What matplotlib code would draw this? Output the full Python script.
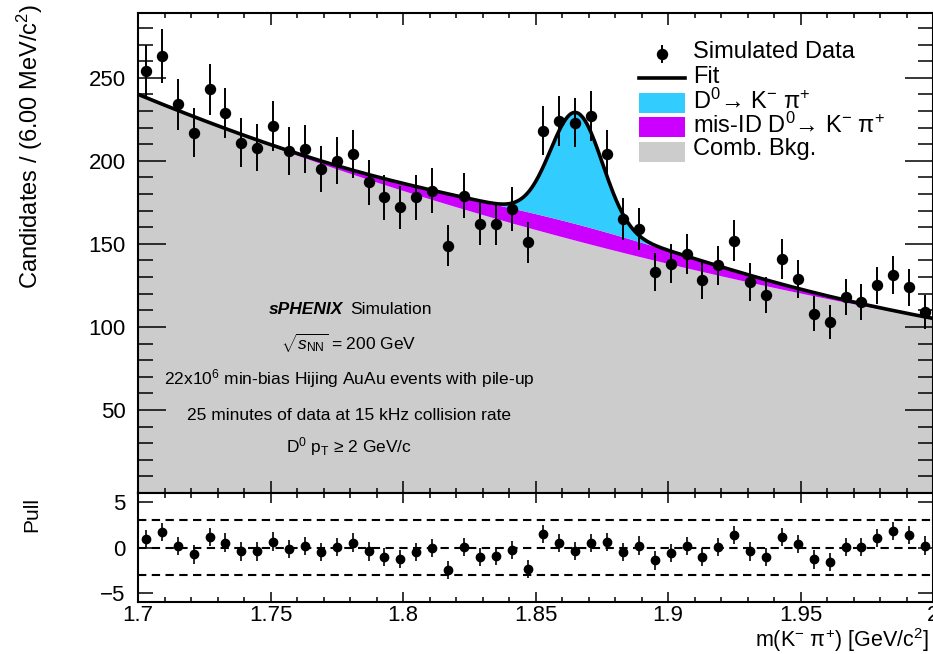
import matplotlib.pyplot as plt
import numpy as np
from matplotlib.patches import Rectangle
from matplotlib.lines import Line2D
from matplotlib.ticker import MultipleLocator, FixedLocator

plt.rcParams['font.family'] = ['Liberation Sans', 'DejaVu Sans']
plt.rcParams['mathtext.fontset'] = 'custom'
plt.rcParams['mathtext.rm'] = 'Liberation Sans'
plt.rcParams['mathtext.it'] = 'Liberation Sans:italic'
plt.rcParams['mathtext.bf'] = 'Liberation Sans:bold'

# m(K- pi+) histogram, 6 MeV bins from 1.70 to 2.00 GeV
m_lo, m_hi, bin_width = 1.70, 2.00, 0.006
counts = [254, 263, 234, 217, 243, 229, 211, 208, 221, 206,
          207, 195, 200, 204, 187, 178, 172, 178, 182, 149,
          179, 162, 162, 171, 151, 218, 224, 223, 227, 204,
          165, 159, 133, 138, 144, 128, 137, 152, 127, 119,
          141, 129, 108, 103, 118, 115, 125, 131, 124, 109]
pulls = [0.95, 1.7, 0.15, -0.77, 1.2, 0.55, -0.44, -0.44, 0.66, -0.15,
         0.18, -0.5, 0.04, 0.55, -0.44, -1.0, -1.25, -0.5, -0.07, -2.5,
         0.04, -1.06, -0.95, -0.26, -2.35, 1.5, 0.48, -0.4, 0.48, 0.59,
         -0.5, 0.22, -1.43, -0.59, 0.15, -1.06, 0.04, 1.4, -0.44, -1.0,
         1.14, 0.4, -1.32, -1.6, 0.04, 0.04, 1.06, 1.8, 1.4, 0.22]

# fit components
comb_norm, comb_slope = 240.0, 2.76          # exponential combinatorial bkg
misid_amp, misid_mean, misid_sigma = 10.0, 1.865, 0.05
sig_amp, sig_mean, sig_sigma = 67.0, 1.8655, 0.0098

x_tick_vals = [1.7, 1.75, 1.8, 1.85, 1.9, 1.95, 2.0]
x_tick_labels = ['1.7', '1.75', '1.8', '1.85', '1.9', '1.95', '2']
y_tick_vals = [50, 100, 150, 200, 250]

C_SIG = '#33ccff'
C_MISID = '#cc00ff'
C_COMB = '#cccccc'

counts = np.array(counts, dtype=float)
pulls = np.array(pulls)
centers = m_lo + bin_width * (np.arange(len(counts)) + 0.5)

xf = np.linspace(m_lo, m_hi, 801)
comb = comb_norm * np.exp(-comb_slope * (xf - m_lo))
misid = misid_amp * np.exp(-0.5 * ((xf - misid_mean) / misid_sigma) ** 2)
sig = sig_amp * np.exp(-0.5 * ((xf - sig_mean) / sig_sigma) ** 2)
total = comb + misid + sig

W, H = 933, 654
fig = plt.figure(figsize=(W / 100, H / 100), dpi=100)

def fxy(px, py):
    return px / W, 1 - py / H

left, right = 138, 933
ax = fig.add_axes([left / W, 1 - 493 / H, (right - left) / W, (493 - 13) / H])
axp = fig.add_axes([left / W, 1 - 602 / H, (right - left) / W, (602 - 493) / H])

# main panel
ax.fill_between(xf, 0, comb, color=C_COMB, lw=0, zorder=1)
ax.fill_between(xf, comb, comb + misid, color=C_MISID, lw=0, zorder=1)
ax.fill_between(xf, comb + misid, total, color=C_SIG, lw=0, zorder=1)
ax.plot(xf, total, color='k', lw=2.6, zorder=2)
ax.errorbar(centers, counts, yerr=np.sqrt(counts), fmt='o', color='k',
            ms=7.2, elinewidth=1.4, capsize=0, zorder=3)
ax.set_xlim(m_lo, m_hi)
ax.set_ylim(0, 289)

for a in (ax, axp):
    for s in a.spines.values():
        s.set_linewidth(1.5)
    a.xaxis.set_major_locator(FixedLocator(x_tick_vals))
    a.xaxis.set_minor_locator(MultipleLocator(0.01))

ax.yaxis.set_major_locator(FixedLocator(y_tick_vals))
ax.yaxis.set_minor_locator(MultipleLocator(10))
ax.tick_params(axis='x', which='both', direction='in', top=True, bottom=True,
               labelbottom=False, width=1.1)
ax.tick_params(axis='x', which='major', length=8.6)
ax.tick_params(axis='x', which='minor', length=3.8)
ax.tick_params(axis='y', which='both', direction='in', left=True, right=True,
               width=1.1, labelsize=16, pad=9)
ax.tick_params(axis='y', which='major', length=20)
ax.tick_params(axis='y', which='minor', length=10.8)

# pull panel
for lvl in (3, 0, -3):
    axp.axhline(lvl, color='k', lw=1.5, ls=(0, (4, 2.6)), zorder=1)
axp.errorbar(centers, pulls, yerr=np.ones_like(pulls), fmt='o', color='k',
             ms=6, elinewidth=1.2, capsize=0, zorder=3)
axp.set_xlim(m_lo, m_hi)
axp.set_ylim(-6, 6)
axp.yaxis.set_major_locator(FixedLocator([-5, 0, 5]))
axp.set_yticklabels(['\u22125', '0', '5'])
axp.set_xticklabels(x_tick_labels)
axp.tick_params(axis='x', which='both', direction='in', top=True, bottom=True,
                width=1.1, labelsize=16, pad=2.5)
axp.tick_params(axis='x', which='major', length=7)
axp.tick_params(axis='x', which='minor', length=3.5)
axp.tick_params(axis='y', which='major', direction='in', left=True, right=True,
                length=10.8, width=1.1, labelsize=16, pad=9)

# axis titles
fig.text(*fxy(30, 4), r'Candidates / (6.00 MeV/c$^{2}$)', rotation=90,
         ha='center', va='top', fontsize=17)
fig.text(*fxy(32, 497), 'Pull', rotation=90, ha='center', va='top', fontsize=15)
fig.text(*fxy(929, 647), r'm(K$^{-}$ π$^{+}$) [GeV/c$^{2}$]',
         ha='right', va='baseline', fontsize=15.5)

# legend
box_x0, box_x1 = 639, 685
text_x = 693
fig.add_artist(Line2D([fxy(662, 0)[0]] * 2, [fxy(0, 46)[1], fxy(0, 62)[1]],
                      color='k', lw=1.4, transform=fig.transFigure))
fig.add_artist(Line2D([fxy(662, 0)[0]], [fxy(0, 54)[1]], marker='o', ms=7.2,
                      color='k', transform=fig.transFigure))
fig.add_artist(Line2D([box_x0 / W, box_x1 / W], [fxy(0, 78)[1]] * 2,
                      color='k', lw=2.6, transform=fig.transFigure))
for yc, col in ((103, C_SIG), (127, C_MISID), (152, C_COMB)):
    fig.add_artist(Rectangle(fxy(box_x0, yc + 10), (box_x1 - box_x0) / W, 20 / H,
                             facecolor=col, edgecolor='none',
                             transform=fig.transFigure))
legend_rows = [
    (52, 'Simulated Data'),
    (77, 'Fit'),
    (101, r'D$^{0}$→ K$^{-}$ π$^{+}$'),
    (125, r'mis-ID D$^{0}$→ K$^{-}$ π$^{+}$'),
    (149, 'Comb. Bkg.'),
]
for yc, label in legend_rows:
    fig.text(*fxy(text_x, yc), label, ha='left', va='center', fontsize=17)

# simulation info
fig.text(*fxy(343, 310), 'sPHENIX', ha='right', va='center', fontsize=12.5,
         fontweight='bold', fontstyle='italic')
fig.text(*fxy(350, 310), 'Simulation', ha='left', va='center', fontsize=12.5)
info_lines = [
    (343, r'$\sqrt{s_{\rm NN}}$ = 200 GeV'),
    (379, r'22x10$^{6}$ min-bias Hijing AuAu events with pile-up'),
    (416, '25 minutes of data at 15 kHz collision rate'),
    (447, r'D$^{0}$ p$_{\rm T}$ ≥ 2 GeV/c'),
]
for yc, line in info_lines:
    fig.text(*fxy(349, yc), line, ha='center', va='center', fontsize=12.5)

fig.savefig('out.png', dpi=100)
